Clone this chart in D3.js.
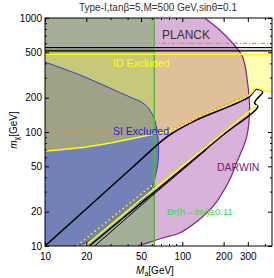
<!DOCTYPE html>
<html>
<head>
<meta charset="utf-8">
<script src="https://cdn.jsdelivr.net/npm/d3@7"></script>
<style>
  body { margin: 0; background: #fff; }
  svg text { font-family: "Liberation Sans", Arial, sans-serif; }
</style>
</head>
<body>
<svg id="chart" width="274" height="278"></svg>
<script>
// axes
const xTicks = [10, 20, 50, 100, 200, 300];
const yTicks = [10, 20, 50, 100, 200, 500, 1000];
const xMinor = [30, 40, 60, 70, 80, 90, 400];
const yMinor = [30, 40, 60, 70, 80, 90, 300, 400, 600, 700, 800, 900];

// constraint boundaries, [M_a, m_chi] in GeV
const brCut = 62.5;
const darwinCurve = [[145.5, 1000], [187, 785], [232, 604], [275, 455], [299, 269], [309, 166], [294, 90],
    [248, 53.5], [221, 38], [166, 22], [127, 16.3], [95.7, 13], [72, 11.75], [55, 10.6], [47.4, 10]];
const siCurve = [[10, 411], [18, 316], [29.7, 243], [41.5, 203], [51.5, 180], [57.9, 156], [63, 127],
    [66.2, 94], [67.3, 69.5], [66.2, 51.4], [61, 34.3], [56, 28], [40, 20.5], [30, 15.5], [22, 11.5], [19, 10.5], [16, 10]];
const idTop = 481;
const idLower = [[10, 68], [20, 74], [30, 80], [40, 86], [50, 91], [63, 96], [75, 100], [85, 104],
    [126.5, 133], [309, 212], [345, 243], [385, 232], [450, 224]];
const planckLines = [551, 514];
const orangeLevels = [600, 100];

// relic density contours
const relicMain = [[10, 10], [43.6, 49.3], [72, 85], [85.1, 98], [126.5, 127], [309, 204], [345, 237],
    [385, 226], [345, 191], [336, 179], [355, 167], [200, 95], [100, 47.6], [50, 23.8], [21, 10]];
const relicLow = [[150, 70], [60, 27.5], [23, 10]];
const yellowBand = [[350, 172], [200, 99], [100, 50], [50, 25.5], [19.5, 10]];
const yellowDots = [[60, 34], [40, 23], [25, 14.5], [17, 10]];
const orangeRelic = [[85, 104], [126.5, 133], [309, 212]];

const svg = d3.select("#chart");
const x = d3.scaleLog().domain([10, 450]).range([45, 272]);
const y = d3.scaleLog().domain([10, 1000]).range([246, 18]);

const lineC = d3.line().x(d => x(d[0])).y(d => y(d[1])).curve(d3.curveCatmullRom.alpha(0.5));
function region(pts, corners) {
    return lineC(pts) + corners.map(c => `L${x(c[0])},${y(c[1])}`).join("") + "Z";
}

const darwinPath = region(darwinCurve, [[10, 10], [10, 1000]]);
const idPath = region(idLower, [[450, idTop], [10, idTop]]);
const siPath = region(siCurve, [[10, 10]]);
const brRect = {x: x(10), y: y(1000), w: x(brCut) - x(10), h: y(10) - y(1000)};

const defs = svg.append("defs");
defs.append("clipPath").attr("id", "plot").append("rect")
    .attr("x", x(10)).attr("y", y(1000)).attr("width", x(450) - x(10)).attr("height", y(10) - y(1000));
defs.append("clipPath").attr("id", "darwin").append("path").attr("d", darwinPath);
defs.append("clipPath").attr("id", "idc").append("path").attr("d", idPath);
defs.append("clipPath").attr("id", "br").append("rect")
    .attr("x", brRect.x).attr("y", brRect.y).attr("width", brRect.w).attr("height", brRect.h);

const g = svg.append("g").attr("clip-path", "url(#plot)");

// fills
g.append("path").attr("d", darwinPath).attr("fill", "#d9b2d9");
g.append("rect").attr("x", brRect.x).attr("y", brRect.y).attr("width", brRect.w).attr("height", brRect.h)
    .attr("fill", "#b4e4a0");
g.append("g").attr("clip-path", "url(#darwin)").append("rect")
    .attr("x", brRect.x).attr("y", brRect.y).attr("width", brRect.w).attr("height", brRect.h)
    .attr("fill", "#a4af9a");
g.append("path").attr("d", idPath).attr("fill", "#ffffb2");
g.append("g").attr("clip-path", "url(#darwin)").append("path").attr("d", idPath).attr("fill", "#e0c099");
g.append("g").attr("clip-path", "url(#br)").append("path").attr("d", idPath).attr("fill", "#c8c87a");
g.append("path").attr("d", siPath).attr("fill", "#7480b8");
g.append("g").attr("clip-path", "url(#idc)").append("path").attr("d", siPath).attr("fill", "#a0a288");

// planck band
g.append("rect").attr("x", x(10)).attr("y", y(planckLines[0]))
    .attr("width", x(450) - x(10)).attr("height", y(planckLines[1]) - y(planckLines[0]))
    .attr("fill", "#000").attr("opacity", 0.15);

// boundary lines
const lineL = d3.line().x(d => x(d[0])).y(d => y(d[1]));
g.append("path").attr("d", lineC(darwinCurve)).attr("fill", "none").attr("stroke", "#8a1a8a").attr("stroke-width", 1.2);
g.append("path").attr("d", lineC(siCurve)).attr("fill", "none").attr("stroke", "#3344cc").attr("stroke-width", 1);
g.append("line").attr("x1", x(brCut)).attr("x2", x(brCut)).attr("y1", y(1000)).attr("y2", y(10))
    .attr("stroke", "#4cbb38").attr("stroke-width", 1.5);

orangeLevels.forEach((v, i) => {
    g.append("line").attr("x1", x(10)).attr("x2", i === 0 ? x(450) : x(brCut))
        .attr("y1", y(v)).attr("y2", y(v))
        .attr("stroke", "#ff8a1a").attr("stroke-width", 1.2).attr("stroke-dasharray", "4,2,1,2");
});
planckLines.forEach(v => {
    g.append("line").attr("x1", x(10)).attr("x2", x(450)).attr("y1", y(v)).attr("y2", y(v))
        .attr("stroke", "#000").attr("stroke-width", 1.2);
});
g.append("line").attr("x1", x(10)).attr("x2", x(450)).attr("y1", y(idTop)).attr("y2", y(idTop))
    .attr("stroke", "#ffff00").attr("stroke-width", 1.5);

g.append("path").attr("d", lineC(relicMain)).attr("fill", "none").attr("stroke", "#000").attr("stroke-width", 1.5);
g.append("path").attr("d", lineL(relicLow)).attr("fill", "none").attr("stroke", "#000").attr("stroke-width", 1);
g.append("path").attr("d", lineL(yellowBand)).attr("fill", "none").attr("stroke", "#ffff00").attr("stroke-width", 1.5);
g.append("path").attr("d", lineL(yellowDots)).attr("fill", "none").attr("stroke", "#ffff00")
    .attr("stroke-width", 1.5).attr("stroke-dasharray", "1.5,3");
g.append("path").attr("d", lineC(idLower)).attr("fill", "none").attr("stroke", "#ffff00").attr("stroke-width", 1.5);
g.append("path").attr("d", lineC(orangeRelic)).attr("fill", "none").attr("stroke", "#ff8a1a")
    .attr("stroke-width", 1.2).attr("stroke-dasharray", "2,2");

// frame and ticks
svg.append("rect").attr("x", x(10)).attr("y", y(1000)).attr("width", x(450) - x(10)).attr("height", y(10) - y(1000))
    .attr("fill", "none").attr("stroke", "#000").attr("stroke-width", 1);

function axis(gen, scale, vals, size, pos, labels) {
    const a = svg.append("g").attr("transform", pos)
        .call(gen(scale).tickValues(vals).tickSize(-size).tickPadding(labels ? 3 : 0)
            .tickFormat(labels ? d3.format("d") : ""));
    a.select(".domain").remove();
    a.selectAll("text").attr("font-size", "10px").attr("fill", "#000");
    return a;
}
axis(d3.axisBottom, x, xTicks, 4, `translate(0,${y(10)})`, true).selectAll("text").attr("dy", "1.05em");
axis(d3.axisBottom, x, xMinor, 2, `translate(0,${y(10)})`, false);
axis(d3.axisTop, x, xTicks, 4, `translate(0,${y(1000)})`, false);
axis(d3.axisTop, x, xMinor, 2, `translate(0,${y(1000)})`, false);
axis(d3.axisLeft, y, yTicks, 4, `translate(${x(10)},0)`, true);
axis(d3.axisLeft, y, yMinor, 2, `translate(${x(10)},0)`, false);
axis(d3.axisRight, y, yTicks, 4, `translate(${x(450)},0)`, false);
axis(d3.axisRight, y, yMinor, 2, `translate(${x(450)},0)`, false);

// labels
svg.append("text").attr("x", 158).attr("y", 11).attr("text-anchor", "middle")
    .attr("font-size", "10px").attr("fill", "#333")
    .text("Type-I,tanβ=5,M=500 GeV,sinθ=0.1");

const xl = svg.append("text").attr("x", 155).attr("y", 274).attr("text-anchor", "middle").attr("font-size", "10px");
xl.append("tspan").attr("font-style", "italic").text("M");
xl.append("tspan").attr("font-size", "7px").attr("dy", 2).text("a");
xl.append("tspan").attr("dy", -2).text("[GeV]");

const yl = svg.append("text").attr("transform", "translate(17,130) rotate(-90)").attr("text-anchor", "middle").attr("font-size", "10px");
yl.append("tspan").attr("font-style", "italic").text("m");
yl.append("tspan").attr("font-size", "7px").attr("dy", 2).text("χ");
yl.append("tspan").attr("dy", -2).text("[GeV]");

svg.append("text").attr("x", 162).attr("y", 39).attr("font-size", "12px").attr("fill", "#333").text("PLANCK");
svg.append("text").attr("x", 113).attr("y", 67).attr("font-size", "10.5px").attr("fill", "#ffff00").text("ID Excluded");
svg.append("text").attr("x", 113).attr("y", 135).attr("font-size", "10.5px").attr("fill", "#2222dd").text("SI Excluded");
svg.append("text").attr("x", 217).attr("y", 171).attr("font-size", "10.5px").attr("fill", "#7a1a7a").text("DARWIN");
svg.append("text").attr("x", 167).attr("y", 215).attr("font-size", "9.5px").attr("fill", "#33dd33").text("Br(h→inv)≥0.11");
</script>
</body>
</html>
